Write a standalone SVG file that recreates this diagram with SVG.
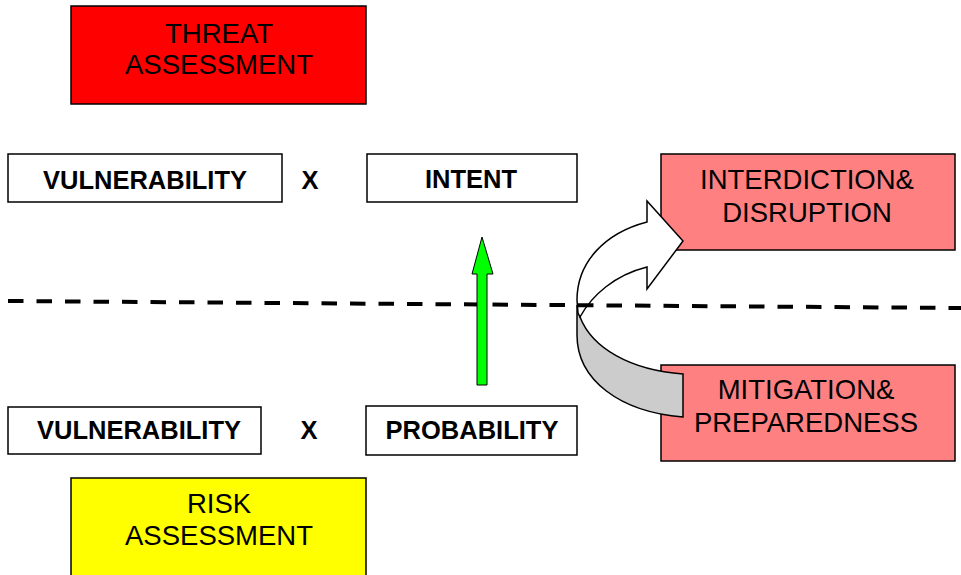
<svg xmlns="http://www.w3.org/2000/svg" width="961" height="575" viewBox="0 0 961 575">
<style>
.box{stroke:#000;stroke-width:1.5}
.reg{font-family:"Liberation Sans",Arial,sans-serif;font-size:27.5px;fill:#000;text-anchor:middle}
.bold{font-family:"Liberation Sans",Arial,sans-serif;font-size:25.5px;font-weight:bold;fill:#000;text-anchor:middle}
</style>
<rect width="961" height="575" fill="#fff"/>
<g id="threat-assessment">
<rect class="box" x="71" y="6" width="295" height="98" fill="#ff0000"/>
<text class="reg" x="219" y="43">THREAT</text>
<text class="reg" x="219" y="74">ASSESSMENT</text>
</g>
<g id="vulnerability-top">
<rect class="box" x="8" y="154" width="274" height="48" fill="#fff"/>
<text class="bold" x="145" y="189">VULNERABILITY</text>
</g>
<text class="bold" x="310" y="189">X</text>
<g id="intent">
<rect class="box" x="367" y="154" width="210" height="48" fill="#fff"/>
<text class="bold" x="471" y="188">INTENT</text>
</g>
<g id="interdiction">
<rect class="box" x="661" y="154" width="294" height="96" fill="#ff8080"/>
<text class="reg" x="807" y="189">INTERDICTION&amp;</text>
<text class="reg" x="807" y="222">DISRUPTION</text>
</g>
<g id="vulnerability-bottom">
<rect class="box" x="8" y="407" width="253" height="47" fill="#fff"/>
<text class="bold" x="139" y="439">VULNERABILITY</text>
</g>
<text class="bold" x="309" y="439">X</text>
<g id="probability">
<rect class="box" x="366" y="406" width="211" height="49" fill="#fff"/>
<text class="bold" x="472" y="439">PROBABILITY</text>
</g>
<g id="mitigation">
<rect class="box" x="661" y="365" width="294" height="96" fill="#ff8080"/>
<text class="reg" x="806" y="399">MITIGATION&amp;</text>
<text class="reg" x="806" y="432">PREPAREDNESS</text>
</g>
<g id="risk-assessment">
<rect class="box" x="71" y="478" width="295" height="110" fill="#ffff00"/>
<text class="reg" x="219" y="513">RISK</text>
<text class="reg" x="219" y="545">ASSESSMENT</text>
</g>
<g id="connectors">
<g id="curved-arrow" stroke="#000" stroke-width="1.5" stroke-linejoin="miter">
<path d="M 580,317 C 592,348 630,370 683,374 L 683,417 C 620,412 577,380 577,335 L 577,305 Z" fill="#cccccc"/>
<path d="M 647,222 C 605,233 577,262 577,300 L 578,313 L 580,317 C 592,295 615,275 647,267 L 647,289 L 683,241 L 647,201 Z" fill="#fff"/>
</g>
<line x1="8" y1="301" x2="961" y2="308" stroke="#000" stroke-width="4" stroke-dasharray="15.5 13"/>
<path id="green-arrow" d="M 477,385 L 477,274 L 472,274 L 482,237 L 493,274 L 487,274 L 487,385 Z" fill="#00ff00" stroke="#000" stroke-width="1"/>
</g>
</svg>
